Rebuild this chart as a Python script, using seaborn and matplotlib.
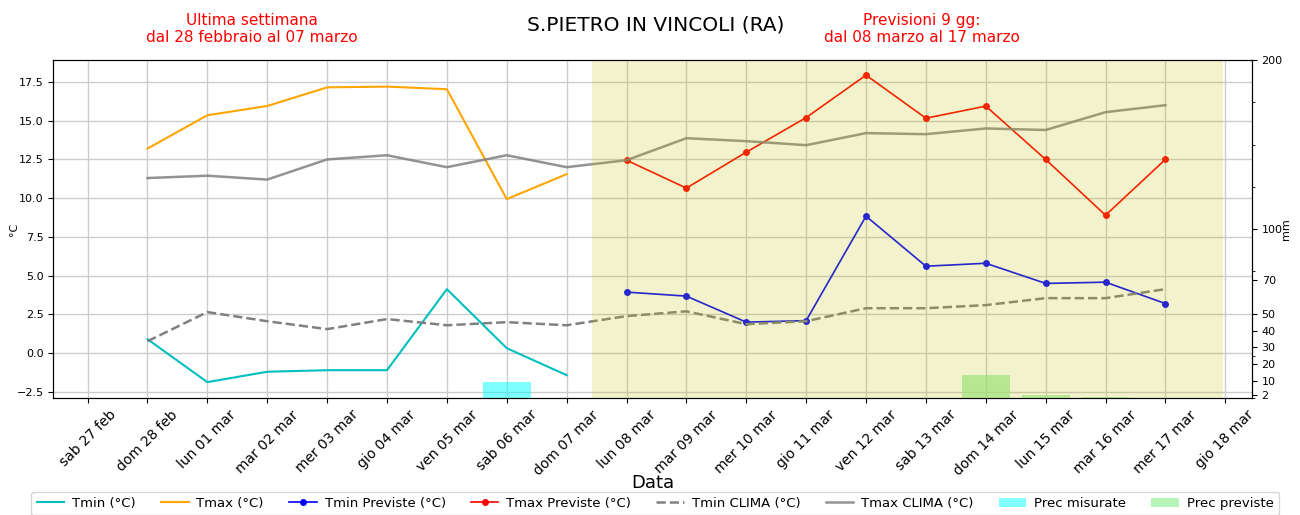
import matplotlib
matplotlib.use("Agg")
import matplotlib.pyplot as plt
import seaborn as sns
import pandas as pd

# etichette dei giorni sull'asse x
giorni = ["sab 27 feb", "dom 28 feb", "lun 01 mar", "mar 02 mar", "mer 03 mar",
          "gio 04 mar", "ven 05 mar", "sab 06 mar", "dom 07 mar", "lun 08 mar",
          "mar 09 mar", "mer 10 mar", "gio 11 mar", "ven 12 mar", "sab 13 mar",
          "dom 14 mar", "lun 15 mar", "mar 16 mar", "mer 17 mar", "gio 18 mar"]
date_tick = pd.date_range("2021-02-27", "2021-03-18", freq="D")
date_oss = pd.date_range("2021-02-28", "2021-03-07", freq="D")
date_prev = pd.date_range("2021-03-08", "2021-03-17", freq="D")
date_clima = pd.date_range("2021-02-28", "2021-03-17", freq="D")

# ultima settimana (misurate)
tmin_oss = [0.9, -1.87, -1.2, -1.1, -1.1, 4.13, 0.32, -1.42]
tmax_oss = [13.2, 15.35, 15.95, 17.15, 17.2, 17.03, 9.94, 11.55]
prec_oss = [0, 0, 0, 0, 0, 0, 9.6, 0]

# previsioni 9 gg
tmin_prev = [3.94, 3.68, 2.0, 2.1, 8.84, 5.61, 5.8, 4.5, 4.58, 3.2]
tmax_prev = [12.45, 10.65, 12.97, 15.2, 17.94, 15.16, 15.94, 12.5, 8.9, 12.5]
prec_prev = [0, 0, 0, 0, 0, 0, 13.6, 1.8, 0.8, 0]

# climatologia
tmin_clima = [0.77, 2.65, 2.06, 1.55, 2.2, 1.8, 2.0, 1.8, 2.39, 2.7,
              1.87, 2.06, 2.9, 2.9, 3.1, 3.55, 3.55, 4.13]
tmax_clima = [11.3, 11.45, 11.2, 12.5, 12.77, 12.0, 12.77, 12.0, 12.45, 13.87,
              13.68, 13.42, 14.2, 14.13, 14.5, 14.4, 15.55, 16.0]

mm_tick = [2, 10, 20, 30, 40, 50, 70, 100, 200]

fig, ax = plt.subplots(figsize=(13, 5.15), dpi=100)
fig.subplots_adjust(left=0.041, right=0.963, top=0.883, bottom=0.227)

sns.lineplot(x=date_oss, y=tmin_oss, ax=ax, color="c", lw=1.5, label="Tmin (°C)")
sns.lineplot(x=date_oss, y=tmax_oss, ax=ax, color="orange", lw=1.5, label="Tmax (°C)")
sns.lineplot(x=date_prev, y=tmin_prev, ax=ax, color="b", lw=1.2, marker="o",
             markersize=5, markeredgewidth=0, label="Tmin Previste (°C)")
sns.lineplot(x=date_prev, y=tmax_prev, ax=ax, color="r", lw=1.2, marker="o",
             markersize=5, markeredgewidth=0, label="Tmax Previste (°C)")
sns.lineplot(x=date_clima, y=tmin_clima, ax=ax, color="gray", lw=1.8,
             linestyle="--", label="Tmin CLIMA (°C)")
sns.lineplot(x=date_clima, y=tmax_clima, ax=ax, color="gray", lw=1.8,
             alpha=0.85, label="Tmax CLIMA (°C)")

ax.set_ylim(-2.9, 18.9)
ax.set_xlim(pd.Timestamp("2021-02-26 10:15"), pd.Timestamp("2021-03-18 10:40"))
ax.set_xticks(date_tick)
ax.set_xticklabels(giorni, rotation=45, fontsize=10)
ax.tick_params(axis="y", labelsize=8)
ax.set_ylabel("°C", fontsize=8, labelpad=-2)
ax.set_xlabel("Data", fontsize=13, labelpad=-3)
ax.grid(True, color="#cccccc", lw=1)

# precipitazioni sull'asse destro
ax2 = ax.twinx()
ax2.bar(date_oss, prec_oss, width=0.8, color="aqua", alpha=0.5, label="Prec misurate")
ax2.bar(date_prev, prec_prev, width=0.8, color="lightgreen", alpha=0.65, label="Prec previste")
ax2.axvspan(pd.Timestamp("2021-03-07 10:00"), pd.Timestamp("2021-03-17 23:00"),
            color="y", alpha=0.2, lw=0)
ax2.set_ylim(0, 200)
ax2.set_yticks(mm_tick)
ax2.set_yticklabels([str(v) for v in mm_tick], fontsize=8)
ax2.set_yticks([0, 25, 75, 125, 150, 175], minor=True)
ax2.set_ylabel("mm", fontsize=8, labelpad=-1)

h1, l1 = ax.get_legend_handles_labels()
h2, l2 = ax2.get_legend_handles_labels()
ax.get_legend().remove()
fig.legend(h1 + h2, l1 + l2, loc="upper center", bbox_to_anchor=(0.504, 0.058),
           ncol=8, fontsize=9.5, handlelength=2.1, handletextpad=0.6,
           columnspacing=1.9)

fig.text(0.504, 0.952, "S.PIETRO IN VINCOLI (RA)", ha="center", va="center", fontsize=14.5)
fig.text(0.194, 0.944, "Ultima settimana\ndal 28 febbraio al 07 marzo",
         ha="center", va="center", color="red", fontsize=11)
fig.text(0.709, 0.944, "Previsioni 9 gg:\ndal 08 marzo al 17 marzo",
         ha="center", va="center", color="red", fontsize=11)

plt.savefig("out.png", dpi=100)
